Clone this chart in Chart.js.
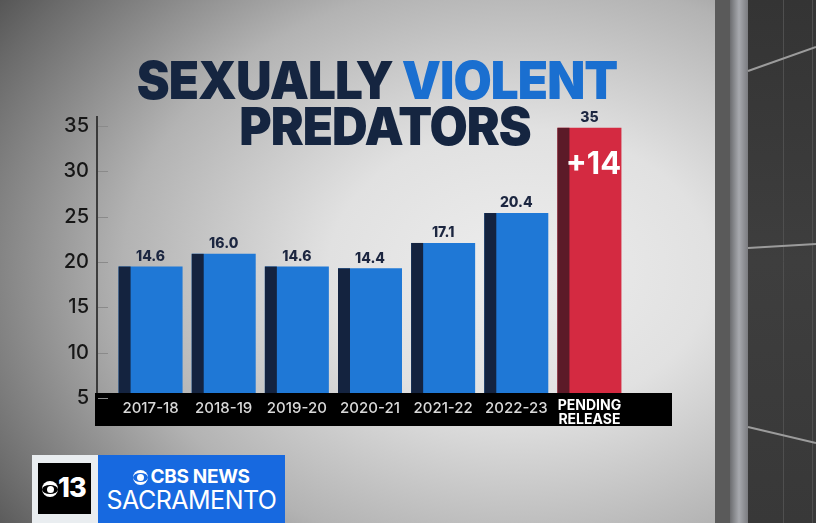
<!DOCTYPE html>
<html>
<head>
<meta charset="utf-8">
<script src="https://cdn.jsdelivr.net/npm/chart.js@4.4.1/dist/chart.umd.min.js"></script>
<style>
	html, body { margin: 0; padding: 0; }
	#stage {
		position: relative; width: 816px; height: 523px; overflow: hidden;
		font-family: Inter, "Open Sans", sans-serif;
		background: radial-gradient(ellipse 640px 470px at 520px 270px, #ededed 0%, #e1e1e1 30%, #b3b3b3 62%, #6a6a6a 92%, #555 100%);
	}
	#chart { position: absolute; left: 0; top: 0; }
	.title {
		position: absolute; transform: translateX(-50%) scaleX(0.95); white-space: nowrap;
		font-weight: 900; font-size: 52px; line-height: 52px; color: #152540; letter-spacing: -1px;
	}
	.title .hl { color: #1a6fd0; }
	#station { position: absolute; left: 32px; top: 455px; width: 66px; height: 68px; background: #e9edf0; }
	#station .sq { position: absolute; left: 6px; top: 8px; width: 53px; height: 51px; background: #000; }
	#station .num { position: absolute; left: 20px; top: 10px; color: #fff; font-weight: 800; font-size: 27px; line-height: 30px; letter-spacing: -1px; }
	.eye { display: inline-block; position: relative; width: 16px; height: 16px; border-radius: 50%; background: #fff; }
	.eye::before { content: ""; position: absolute; left: 0; top: 3.5px; width: 16px; height: 9px; border-radius: 50%; background: #000; }
	.eye::after { content: ""; position: absolute; left: 4.5px; top: 4.5px; width: 7px; height: 7px; border-radius: 50%; background: #fff; }
	#station .eye { position: absolute; left: 4px; top: 18px; }
	#brand { position: absolute; left: 98px; top: 455px; width: 187px; height: 68px; background: #1769e0; color: #fff; text-align: center; }
	#brand .net { position: absolute; left: 0; width: 100%; top: 11px; font-weight: 700; font-size: 19px; line-height: 22px; letter-spacing: -0.3px; }
	#brand .net .eye { width: 15px; height: 15px; vertical-align: -2px; margin-right: 2px; }
	#brand .net .eye::before { width: 15px; top: 3px; background: #1769e0; }
	#brand .net .eye::after { left: 4px; top: 4px; }
	#brand .city { position: absolute; left: 0; width: 100%; top: 30px; font-weight: 400; font-size: 25px; line-height: 30px; letter-spacing: -0.5px; }
</style>
</head>
<body>
<div id="stage">
	<canvas id="chart" width="816" height="523"></canvas>
	<div class="title" style="left:377px; top:55px;">SEXUALLY <span class="hl">VIOLENT</span></div>
	<div class="title" style="left:385px; top:101px;">PREDATORS</div>
	<div id="station"><div class="sq"><span class="eye"></span><span class="num">13</span></div></div>
	<div id="brand"><div class="net"><span class="eye"></span>CBS NEWS</div><div class="city">SACRAMENTO</div></div>
</div>
<script>
const seasons = ["2017-18", "2018-19", "2019-20", "2020-21", "2021-22", "2022-23", ["PENDING", "RELEASE"]];
const shownValues = ["14.6", "16.0", "14.6", "14.4", "17.1", "20.4", "35"];
// where the bar tops sit against the drawn axis
const barTops = [19.5, 20.9, 19.5, 19.3, 22.1, 25.4, 34.8];
const yTicks = [5, 10, 15, 20, 25, 30, 35];
const increaseLabel = "+14";

const lastIdx = seasons.length - 1;

// dark window frame on the right
const backdrop = {
	id: "backdrop",
	beforeDraw(chart) {
		const ctx = chart.ctx;
		const W = chart.width, H = chart.height;
		ctx.save();
		ctx.fillStyle = "#4a4a4a";
		ctx.fillRect(715, 0, W - 715, H);
		ctx.fillStyle = "#5a5a5a";
		ctx.fillRect(715, 0, 15, H);
		const g = ctx.createLinearGradient(730, 0, 748, 0);
		g.addColorStop(0, "#6c6d70");
		g.addColorStop(0.5, "#a7a9ae");
		g.addColorStop(1, "#7b7c80");
		ctx.fillStyle = g;
		ctx.fillRect(730, 0, 18, H);
		const w = ctx.createLinearGradient(0, 0, 0, H);
		w.addColorStop(0, "#343434");
		w.addColorStop(0.5, "#3e3e3e");
		w.addColorStop(1, "#383838");
		ctx.fillStyle = w;
		ctx.fillRect(748, 0, W - 748, H);
		ctx.strokeStyle = "#4f4f4f";
		ctx.lineWidth = 1;
		ctx.beginPath();
		ctx.moveTo(783.5, 0); ctx.lineTo(783.5, H);
		ctx.moveTo(812.5, 0); ctx.lineTo(812.5, H);
		ctx.stroke();
		ctx.strokeStyle = "#9c9c9c";
		ctx.lineWidth = 2;
		ctx.beginPath();
		ctx.moveTo(748, 71); ctx.lineTo(W, 47);
		ctx.moveTo(748, 248); ctx.lineTo(W, 244);
		ctx.moveTo(748, 427); ctx.lineTo(W, 443);
		ctx.stroke();
		ctx.restore();
	}
};

// bar shading, black label band, axis line and value labels
const decor = {
	id: "decor",
	afterDatasetsDraw(chart) {
		const ctx = chart.ctx;
		const area = chart.chartArea;
		const y = chart.scales.y;
		const bars = chart.getDatasetMeta(0).data;
		ctx.save();

		bars.forEach((bar, i) => {
			ctx.fillStyle = i === lastIdx ? "#5c1a28" : "#14233f";
			ctx.fillRect(bar.x - bar.width / 2, bar.y, 12, bar.base - bar.y);
		});

		const base = y.getPixelForValue(yTicks[0]);
		ctx.fillStyle = "#000";
		ctx.fillRect(area.left - 19, base - 5, area.right - area.left + 65, 33);

		const axisX = area.left - 17;
		ctx.strokeStyle = "#1a1a1a";
		ctx.lineWidth = 1.5;
		ctx.beginPath();
		ctx.moveTo(axisX, y.getPixelForValue(yTicks[yTicks.length - 1]) - 10);
		ctx.lineTo(axisX, base - 5);
		ctx.stroke();
		ctx.strokeStyle = "#8a8a8a";
		ctx.lineWidth = 1;
		ctx.beginPath();
		yTicks.forEach((t) => {
			const py = Math.round(y.getPixelForValue(t)) + 0.5;
			ctx.moveTo(axisX + 1, py);
			ctx.lineTo(axisX + 11, py);
		});
		ctx.stroke();

		ctx.textAlign = "center";
		ctx.textBaseline = "bottom";
		ctx.fillStyle = "#1c2640";
		ctx.font = "800 14px Inter";
		bars.forEach((bar, i) => {
			ctx.fillText(shownValues[i], bar.x, bar.y - 3);
		});

		const last = bars[lastIdx];
		ctx.fillStyle = "#fff";
		ctx.font = "700 31px Inter";
		ctx.textBaseline = "middle";
		ctx.fillText(increaseLabel, last.x + 4, last.y + 37);
		ctx.restore();
	}
};

new Chart(document.getElementById("chart"), {
	type: "bar",
	data: {
		labels: seasons,
		datasets: [{
			data: barTops,
			base: yTicks[0],
			backgroundColor: (c) => (c.dataIndex === lastIdx ? "#d42a41" : "#1f78d6"),
			borderWidth: 0,
			barPercentage: 0.875,
			categoryPercentage: 1.0
		}]
	},
	options: {
		responsive: false,
		animation: false,
		layout: { padding: { left: 0, right: 190, top: 126, bottom: 0 } },
		plugins: { legend: { display: false }, tooltip: { enabled: false } },
		scales: {
			x: {
				grid: { display: false, drawTicks: false },
				border: { display: false },
				afterFit: (s) => { s.height = 125; },
				ticks: {
					z: 1,
					padding: 1,
					maxRotation: 0,
					autoSkip: false,
					color: (c) => (c.index === lastIdx ? "#ffffff" : "#d9d9d9"),
					font: (c) => (c.index === lastIdx
						? { family: "Inter", size: 14, weight: "700", lineHeight: 1.0 }
						: { family: "Inter", size: 15, weight: "500" })
				}
			},
			y: {
				min: yTicks[0],
				max: yTicks[yTicks.length - 1],
				afterFit: (s) => { s.width = 114; },
				afterBuildTicks: (s) => { s.ticks = yTicks.map((v) => ({ value: v })); },
				grid: { display: false, drawTicks: false },
				border: { display: false },
				ticks: {
					padding: 25,
					color: "#161616",
					font: { family: "Inter", size: 20, weight: "500" }
				}
			}
		}
	},
	plugins: [backdrop, decor]
});
</script>
</body>
</html>
